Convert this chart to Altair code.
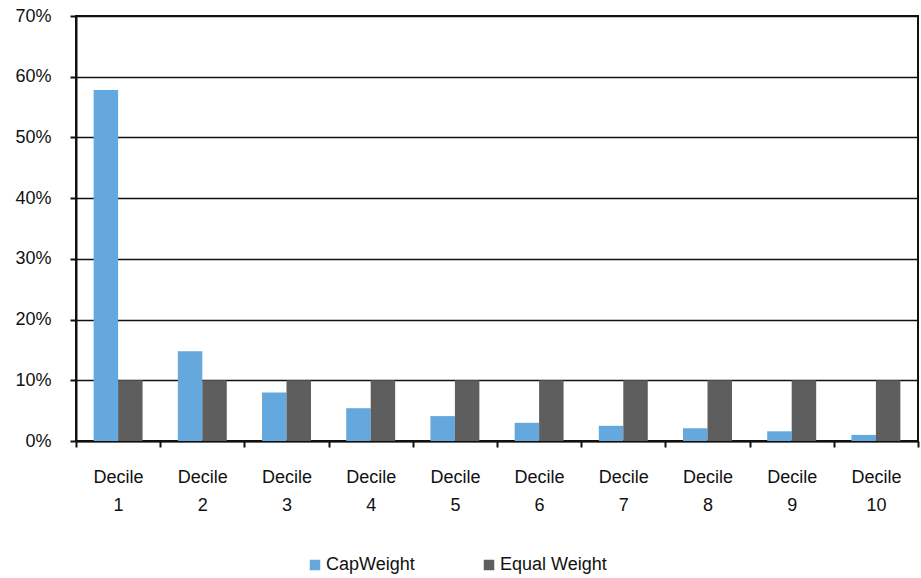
import altair as alt
import pandas as pd

deciles = ["Decile 1", "Decile 2", "Decile 3", "Decile 4", "Decile 5",
           "Decile 6", "Decile 7", "Decile 8", "Decile 9", "Decile 10"]
cap_weight = [0.578, 0.148, 0.080, 0.054, 0.041, 0.030, 0.025, 0.021, 0.016, 0.010]
equal_weight = [0.10] * 10
series = ["CapWeight", "Equal Weight"]
colors = ["#64A8DD", "#5E5E5E"]

rows = []
for d, c, e in zip(deciles, cap_weight, equal_weight):
    rows.append({"Decile": d, "Series": series[0], "Value": c})
    rows.append({"Decile": d, "Series": series[1], "Value": e})
df = pd.DataFrame(rows)

FONT = "Liberation Sans"

chart = alt.Chart(df).mark_bar().encode(
    x=alt.X("Decile:N", sort=deciles, title=None,
            scale=alt.Scale(paddingInner=0, paddingOuter=0),
            axis=alt.Axis(labelAngle=0, tickBand="extent", ticks=True, tickSize=6,
                          tickColor="#111", domainColor="#111", domainWidth=2, tickWidth=2,
                          labelExpr="split(datum.label, ' ')",
                          labelLineHeight=28, labelPadding=21, labelFontSize=18,
                          labelColor="#111", labelFont=FONT, grid=False)),
    xOffset=alt.XOffset("Series:N", sort=series,
                        scale=alt.Scale(paddingInner=0, paddingOuter=0.72)),
    y=alt.Y("Value:Q", title=None,
            scale=alt.Scale(domain=[0, 0.7], nice=False),
            axis=alt.Axis(format=".0%", values=[0, 0.1, 0.2, 0.3, 0.4, 0.5, 0.6, 0.7],
                          tickSize=6, tickWidth=2, tickColor="#111", domainColor="#111",
                          domainWidth=2, gridColor="#111", gridWidth=1.5, gridOpacity=1,
                          labelFontSize=18, labelColor="#111", labelFont=FONT,
                          labelPadding=19)),
    color=alt.Color("Series:N", sort=series,
                    scale=alt.Scale(domain=series, range=colors),
                    legend=alt.Legend(orient="none", direction="horizontal", title=None,
                                      legendX=230, legendY=540, symbolType="square",
                                      symbolSize=110, symbolStrokeWidth=0,
                                      labelFontSize=18, labelFont=FONT, labelColor="#111",
                                      labelOffset=2, columnPadding=65)),
).properties(
    width=842, height=425,
    autosize="none",
    padding={"left": 76, "top": 16, "right": 3, "bottom": 137},
).configure_view(
    stroke="#111", strokeWidth=2
)

chart.save("out.html", embed_options={"renderer": "svg", "actions": False})
